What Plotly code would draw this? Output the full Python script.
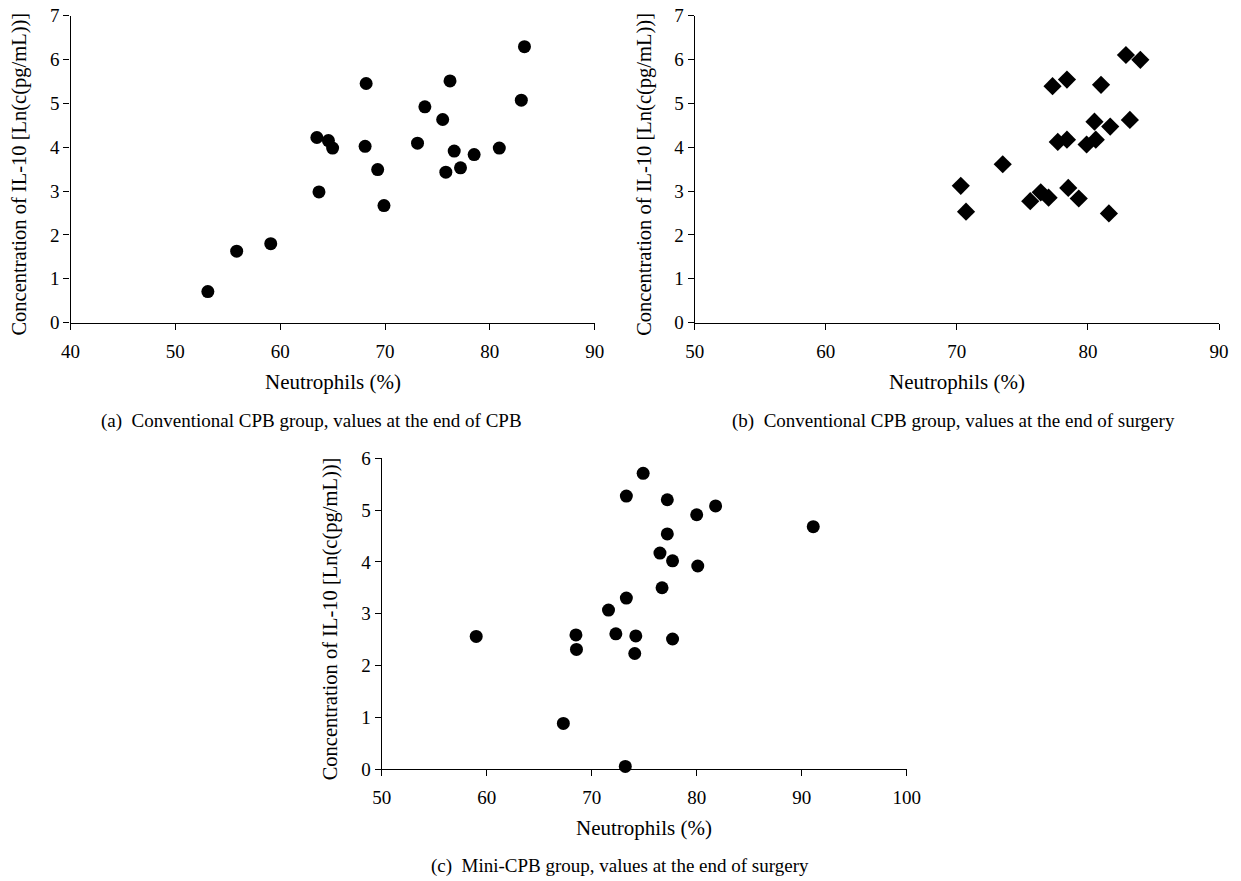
import plotly.graph_objects as go

# Panel (a): Conventional CPB group, end of CPB
a_neut = [53.1, 55.85, 59.1, 63.5, 63.7, 64.6, 65.0, 68.2, 68.1, 69.3, 69.9,
          73.1, 73.8, 75.5, 76.2, 75.8, 76.6, 77.2, 78.5, 80.9, 83.0, 83.3]
a_il10 = [0.71, 1.63, 1.80, 4.22, 2.98, 4.15, 3.98, 5.45, 4.02, 3.49, 2.67,
          4.09, 4.92, 4.63, 5.51, 3.43, 3.91, 3.53, 3.83, 3.98, 5.07, 6.29]

# Panel (b): Conventional CPB group, end of surgery
b_neut = [70.3, 70.7, 73.5, 75.6, 76.4, 77.0, 77.3, 77.7, 78.4, 78.4, 78.5,
          79.3, 79.9, 80.5, 80.6, 81.0, 81.7, 81.6, 82.9, 83.2, 84.0]
b_il10 = [3.12, 2.53, 3.61, 2.77, 2.97, 2.85, 5.39, 4.12, 5.54, 4.17, 3.07,
          2.83, 4.06, 4.58, 4.17, 5.42, 4.47, 2.49, 6.10, 4.62, 5.99]

# Panel (c): Mini-CPB group, end of surgery
c_neut = [59.0, 67.3, 68.5, 68.55, 71.6, 72.3, 73.3, 73.3, 73.2, 74.1, 74.2,
          74.9, 76.5, 76.7, 77.2, 77.2, 77.7, 77.7, 80.0, 80.1, 81.8, 91.1]
c_il10 = [2.56, 0.88, 2.59, 2.31, 3.07, 2.61, 5.27, 3.30, 0.05, 2.23, 2.57,
          5.71, 4.17, 3.50, 5.20, 4.54, 2.51, 4.02, 4.91, 3.92, 5.08, 4.68]

captions = ["(a)  Conventional CPB group, values at the end of CPB",
            "(b)  Conventional CPB group, values at the end of surgery",
            "(c)  Mini-CPB group, values at the end of surgery"]
x_title = "Neutrophils (%)"
y_title = "Concentration of IL-10 [Ln(c(pg/mL))]"

# The page body has an 8px margin, so the figure is sized to the visible area
OFF = 8
W, H = 1241 - 2 * OFF, 881 - OFF
FONT = "Liberation Serif"
BLACK = "black"

def px_x(p):
    return (p - OFF) / W

def px_y(p):
    return 1 - (p - OFF) / H

fig = go.Figure()
fig.add_trace(go.Scatter(x=a_neut, y=a_il10, mode="markers", xaxis="x", yaxis="y",
                         marker=dict(symbol="circle", size=13, color=BLACK),
                         cliponaxis=False, showlegend=False))
fig.add_trace(go.Scatter(x=b_neut, y=b_il10, mode="markers", xaxis="x2", yaxis="y2",
                         marker=dict(symbol="diamond", size=14, color=BLACK),
                         cliponaxis=False, showlegend=False))
fig.add_trace(go.Scatter(x=c_neut, y=c_il10, mode="markers", xaxis="x3", yaxis="y3",
                         marker=dict(symbol="circle", size=13, color=BLACK),
                         cliponaxis=False, showlegend=False))

common_x = dict(showgrid=False, zeroline=False, showline=True, linecolor=BLACK, linewidth=1.3,
                ticks="outside", ticklen=6, tickwidth=1.3, tickcolor=BLACK, dtick=10,
                ticklabelstandoff=5, automargin=False, ticklabeloverflow="allow",
                tickfont=dict(family=FONT, size=19, color=BLACK))
common_y = dict(showgrid=False, zeroline=False, showline=True, linecolor=BLACK, linewidth=1.3,
                ticks="outside", ticklen=6, tickwidth=1.3, tickcolor=BLACK, dtick=1,
                automargin=False, ticklabeloverflow="allow",
                tickfont=dict(family=FONT, size=19, color=BLACK))

# panel pixel geometry in the screenshot: (left, right, top, bottom)
panels = [(70.5, 594.7, 15.5, 322.7), (694.7, 1219.0, 15.5, 322.7), (381.7, 906.7, 458.3, 769.0)]
cap_pos = [(311, 421), (953, 421), (620, 866)]

annotations = []
for (l, r, t, b), cap, (cx, cy) in zip(panels, captions, cap_pos):
    annotations.append(dict(text=x_title, x=px_x((l + r) / 2), y=px_y(b + 59),
                            xref="paper", yref="paper", showarrow=False,
                            xanchor="center", yanchor="middle",
                            font=dict(family=FONT, size=21, color=BLACK)))
    annotations.append(dict(text=y_title, x=px_x(l - 51), y=px_y((t + b) / 2 + 5),
                            xref="paper", yref="paper", showarrow=False, textangle=-90,
                            xanchor="center", yanchor="middle",
                            font=dict(family=FONT, size=20.5, color=BLACK)))
    annotations.append(dict(text=cap, x=px_x(cx), y=px_y(cy),
                            xref="paper", yref="paper", showarrow=False,
                            xanchor="center", yanchor="middle",
                            font=dict(family=FONT, size=19, color=BLACK)))

(al, ar, at, ab), (bl, br, bt, bb), (cl, cr, ct, cb) = panels
fig.update_layout(
    width=W, height=H, margin=dict(l=0, r=0, t=0, b=0),
    paper_bgcolor="white", plot_bgcolor="white",
    xaxis=dict(common_x, domain=[px_x(al), px_x(ar)], range=[40, 90], anchor="y"),
    yaxis=dict(common_y, domain=[px_y(ab), px_y(at)], range=[0, 7], anchor="x"),
    xaxis2=dict(common_x, domain=[px_x(bl), px_x(br)], range=[50, 90], anchor="y2"),
    yaxis2=dict(common_y, domain=[px_y(bb), px_y(bt)], range=[0, 7], anchor="x2"),
    xaxis3=dict(common_x, domain=[px_x(cl), px_x(cr)], range=[50, 100], anchor="y3"),
    yaxis3=dict(common_y, domain=[px_y(cb), px_y(ct)], range=[0, 6], anchor="x3"),
    annotations=annotations,
)

fig.write_html("out.html")
